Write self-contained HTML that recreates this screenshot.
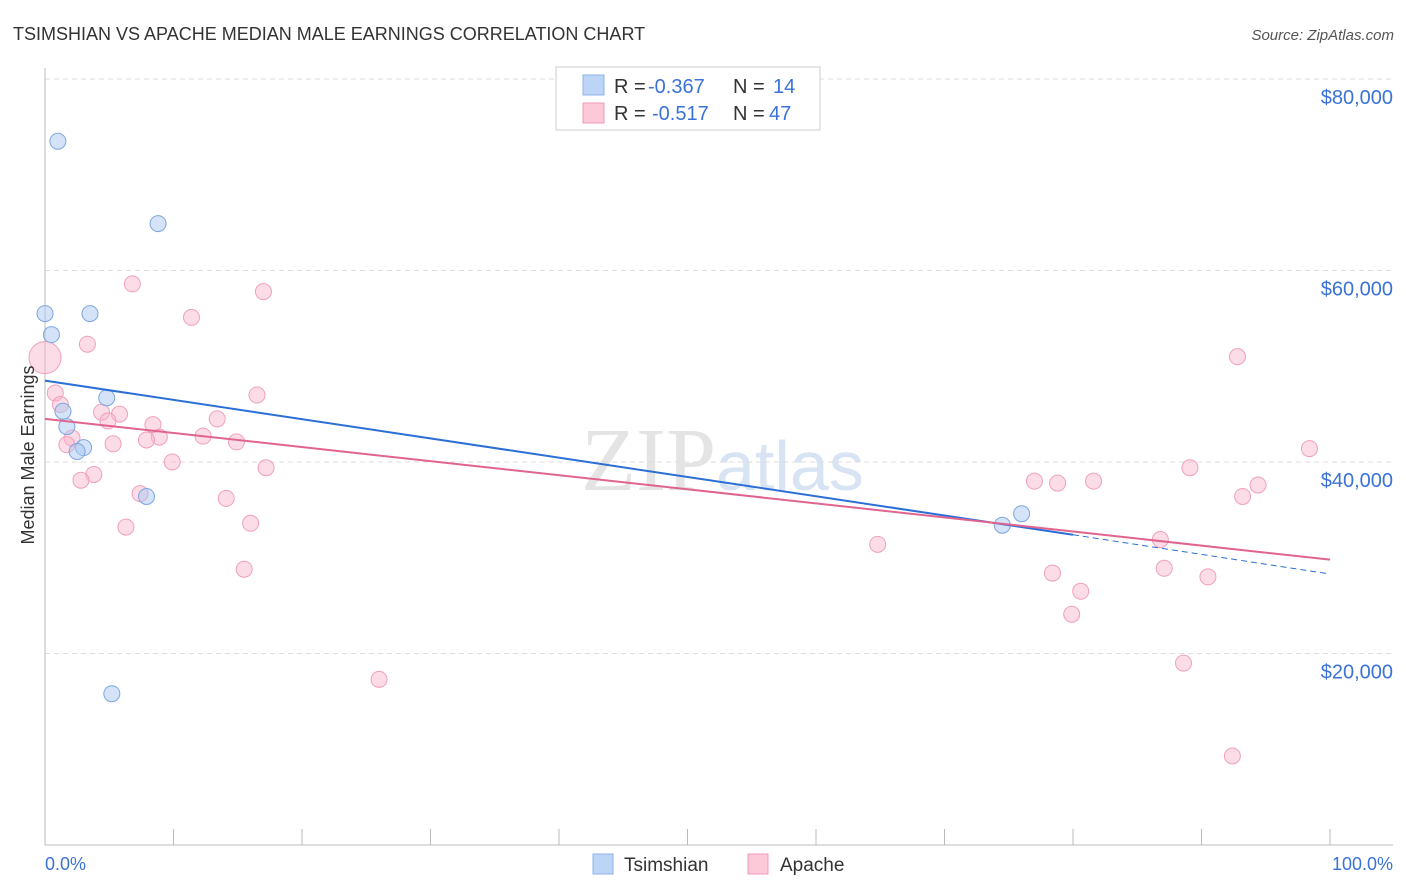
<!DOCTYPE html>
<html><head><meta charset="utf-8"><style>
body{margin:0;background:#fff;font-family:"Liberation Sans",sans-serif}
svg{display:block}
</style></head><body>
<svg id="c" width="1406" height="892" xmlns="http://www.w3.org/2000/svg">
<text x="13" y="40" font-size="18" fill="#333">TSIMSHIAN VS APACHE MEDIAN MALE EARNINGS CORRELATION CHART</text>
<text x="1394" y="40" font-size="15" fill="#555" font-style="italic" text-anchor="end">Source: ZipAtlas.com</text>
<text x="716" y="490" font-size="90" fill="#e4e4e4" text-anchor="end" font-family="Liberation Serif,serif">ZIP</text>
<text x="716" y="490" font-size="70" fill="#d8e4f4">atlas</text>
<g id="grid"></g>
<g id="marks"></g>
<text transform="translate(34,455) rotate(-90)" font-size="18" fill="#333" text-anchor="middle">Median Male Earnings</text>
<text x="45" y="870" font-size="18" fill="#3a72d8">0.0%</text>
<text x="1393" y="870" font-size="18" fill="#3a72d8" text-anchor="end">100.0%</text>
<g>
<rect x="556" y="67" width="264" height="63" fill="#fff" stroke="#ccc"/>
<rect x="583" y="75" width="21" height="20" fill="#bcd4f6" stroke="#8fb0e6"/>
<rect x="583" y="103" width="21" height="20" fill="#fbc9d8" stroke="#f09ab5"/>
<text x="614" y="93" font-size="20" fill="#333">R = <tspan fill="#3a72d8" x="648">-0.367</tspan><tspan x="733">N = </tspan><tspan fill="#3a72d8" x="773">14</tspan></text>
<text x="614" y="120" font-size="20" fill="#333">R = <tspan fill="#3a72d8" x="652">-0.517</tspan><tspan x="733">N = </tspan><tspan fill="#3a72d8" x="769">47</tspan></text>
</g>
<g>
<rect x="593" y="854" width="20" height="20" fill="#bcd4f6" stroke="#8fb0e6"/>
<text x="624" y="871" font-size="19" fill="#333">Tsimshian</text>
<rect x="748" y="854" width="20" height="20" fill="#fbc9d8" stroke="#f09ab5"/>
<text x="780" y="871" font-size="19" fill="#333">Apache</text>
</g>
</svg>
<script>
const yTicks=[20000,40000,60000,80000];
const yTickLabels=["$20,000","$40,000","$60,000","$80,000"];
const xTicks=[10,20,30,40,50,60,70,80,90,100];
const tsX=[1.0,8.8,0,3.5,0.5,4.8,1.4,1.7,3.0,2.5,7.9,5.2,74.5,76.0];
const tsY=[73.5,64.9,55.5,55.5,53.3,46.7,45.3,43.7,41.5,41.1,36.4,15.8,33.4,34.6];
const apX=[0,6.8,17.0,11.4,3.3,0.8,1.2,4.4,5.8,4.9,8.4,13.4,16.5,2.1,1.7,8.9,7.9,5.3,12.3,14.9,9.9,3.8,2.8,17.2,7.4,14.1,16.0,6.3,15.5,26.0,64.8,77.0,78.8,81.6,92.8,98.4,89.1,94.4,93.2,86.8,87.1,78.4,80.6,90.5,79.9,88.6,92.4];
const apY=[50.9,58.6,57.8,55.1,52.3,47.2,46.0,45.2,45.0,44.3,43.9,44.5,47.0,42.5,41.8,42.6,42.3,41.9,42.7,42.1,40.0,38.7,38.1,39.4,36.7,36.2,33.6,33.2,28.8,17.3,31.4,38.0,37.8,38.0,51.0,41.4,39.4,37.6,36.4,31.9,28.9,28.4,26.5,28.0,24.1,19.0,9.3];
const tsTrend=[48.5,32.4,28.3]; // at 0%, 80%, 100%
const apTrend=[44.5,29.8];      // at 0%, 100%
const NS="http://www.w3.org/2000/svg";
const sx=p=>45+p*12.85;
const sy=v=>845-v*9.575; // v in thousands
function mk(t,a,p){const e=document.createElementNS(NS,t);for(const k in a)e.setAttribute(k,a[k]);p.appendChild(e);return e;}
const gridG=document.getElementById('grid'),marksG=document.getElementById('marks');
yTicks.forEach((t,i)=>{
 const l=mk('line',{x1:45,x2:1393,y1:sy(t/1000),y2:sy(t/1000),stroke:'#ddd','stroke-dasharray':'5,4'},gridG);
 
 
 const tx=mk('text',{x:1393,y:sy(t/1000)+25,'font-size':20,fill:'#3a72d8','text-anchor':'end'},gridG);
 tx.textContent=yTickLabels[i];
 
 
});
const xAxisLine=mk('line',{x1:45,x2:1393,y1:845,y2:845,stroke:'#bbb'},gridG);


const yAxisLine=mk('line',{x1:45,x2:45,y1:68,y2:845,stroke:'#bbb'},gridG);


xTicks.forEach(t=>{
 const l=mk('line',{x1:sx(t),x2:sx(t),y1:829,y2:845,stroke:'#bbb'},gridG);
 
 
});
apX.forEach((x,i)=>{
 const c=mk('circle',{cx:sx(x),cy:sy(apY[i]),r:i===0?16:8,fill:'rgba(248,180,202,0.45)',stroke:'#f0a0bb','stroke-width':1},marksG);
 
 
});
tsX.forEach((x,i)=>{
 const c=mk('circle',{cx:sx(x),cy:sy(tsY[i]),r:8,fill:'rgba(170,200,242,0.5)',stroke:'#7ea6e0','stroke-width':1},marksG);
 
 
});
const t1=mk('line',{x1:sx(0),y1:sy(tsTrend[0]),x2:sx(80),y2:sy(tsTrend[1]),stroke:'#2b6fd6','stroke-width':2},marksG);


const t2=mk('line',{x1:sx(80),y1:sy(tsTrend[1]),x2:sx(100),y2:sy(tsTrend[2]),stroke:'#2b6fd6','stroke-width':1,'stroke-dasharray':'6,4'},marksG);


const t3=mk('line',{x1:sx(0),y1:sy(apTrend[0]),x2:sx(100),y2:sy(apTrend[1]),stroke:'#e0648e','stroke-width':2},marksG);


</script>
</body></html>
